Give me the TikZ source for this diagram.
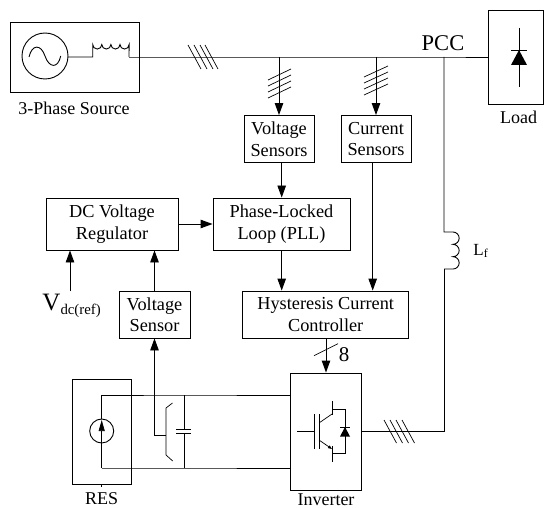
\documentclass[tikz,border=0pt]{standalone}
\usepackage{fontspec}
\setmainfont{Liberation Serif}
\usetikzlibrary{arrows.meta}

\tikzset{
    block/.style={draw,align=center,inner sep=0pt,font=\fontsize{18.3}{21.5}\selectfont},
    caption/.style={inner sep=0pt,font=\fontsize{18}{21}\selectfont},
    signal/.style={-{Triangle[length=12pt,width=8.5pt]}},
    thin wire/.style={line width=.7pt},
}

\begin{document}
\begin{tikzpicture}[x=1pt,y=-1pt,line width=.9pt]
    \useasboundingbox (0,0) rectangle (544,508);

    % boxes
    \node[block,minimum width=129,minimum height=70] (Source) at (74.5,57) {};
    \node[block,minimum width=55,minimum height=94] (Load) at (515.5,57) {};
    \node[block,minimum width=70,minimum height=47] (VSensors) at (279,139) {Voltage\\Sensors};
    \node[block,minimum width=70,minimum height=47] (CSensors) at (376,139) {Current\\Sensors};
    \node[block,minimum width=132,minimum height=52] (Regulator) at (112,224) {DC Voltage\\Regulator};
    \node[block,minimum width=137,minimum height=52] (PLL) at (281.5,224) {Phase-Locked\\Loop (PLL)};
    \node[block,minimum width=166,minimum height=47] (Controller) at (325.7,314.5) {Hysteresis Current\\Controller};
    \node[block,minimum width=71,minimum height=47] (VSensor) at (154.5,314.5) {Voltage\\Sensor};
    \node[block,minimum width=59,minimum height=105] (RES) at (101.7,431.5) {};
    \node[block,minimum width=71,minimum height=117] (Inverter) at (326,431.5) {};

    % labels
    \node[caption] (SourceLabel) at (74,108) {3-Phase Source};
    \node[caption] (LoadLabel) at (518.7,117) {Load};
    \node[caption] (ResLabel) at (101.7,499) {RES};
    \node[caption] (InverterLabel) at (326,499.5) {Inverter};
    \node[inner sep=0pt,font=\fontsize{22.5}{26}\selectfont] (PCCLabel) at (443,43) {PCC};
    \node[inner sep=0pt,anchor=base west,font=\fontsize{25}{28}\selectfont] (VrefLabel) at (42,310)
        {V\raisebox{-4pt}{\fontsize{14.8}{18}\selectfont dc(ref)}};
    \node[inner sep=0pt,font=\fontsize{21}{24}\selectfont] (EightLabel) at (344,355) {8};
    \node[inner sep=0pt,anchor=base west,font=\fontsize{17}{20}\selectfont] (LfLabel) at (473,255)
        {L\raisebox{-2pt}{\fontsize{12}{14}\selectfont f}};

    % junctions
    \coordinate (SourceOut) at (129,57);
    \coordinate (PCC) at (444,57);
    \coordinate (VTap) at (VSensors.north|-SourceOut);
    \coordinate (CTap) at (CSensors.north|-SourceOut);
    \coordinate (LfTop) at (444,232);
    \coordinate (LfBottom) at (444,269);
    \coordinate (InvCorner) at (444,431);
    \coordinate (Vref) at (70,291);
    \coordinate (SenseTurn) at (VSensor.south|-0,435);
    \coordinate (BusTop) at (184.7,395);
    \coordinate (BusBottom) at (184.7,468);
    \coordinate (ResTop) at (101.7,395);
    \coordinate (ResBottom) at (101.7,468);
    \coordinate (InvTop) at (Inverter.west|-BusTop);
    \coordinate (InvBottom) at (Inverter.west|-BusBottom);

    % power lines
    \draw (SourceOut) -- (PCC) -- (Load.west|-PCC);
    \draw (PCC) -- (LfTop) -- ++(9,0)
        arc (-90:90:6.17) arc (-90:90:6.17) arc (-90:90:6.17) -- (LfBottom);
    \draw (LfBottom) -- (InvCorner) -- (Inverter.east|-InvCorner);
    \draw (ResBottom) -- (ResTop) -- (BusTop) -- (InvTop);
    \draw (ResBottom) -- (BusBottom) -- (InvBottom);
    \draw (BusTop) -- (184.7,429);
    \draw (184.7,433) -- (BusBottom);
    \draw (RES.south) -- ++(0,3);

    % signals
    \draw[signal] (VTap) -- (VSensors.north);
    \draw[signal] (CTap) -- (CSensors.north);
    \draw[signal] (VSensors.south-|281.7,0) -- (PLL.north-|281.7,0);
    \draw[signal] (CSensors.south-|372.7,0) -- (Controller.north-|372.7,0);
    \draw[signal] (PLL.south-|281.7,0) -- (Controller.north-|281.7,0);
    \draw[signal] (Regulator.east) -- (PLL.west);
    \draw[signal] (VSensor.north) -- (Regulator.south-|VSensor.north);
    \draw[signal] (Vref) -- (Regulator.south-|Vref);
    \draw[signal] (Controller.south-|Inverter.north) -- (Inverter.north);
    \draw[signal] (166,435) -- (SenseTurn) -- (VSensor.south);

    % hatches
    \foreach \xa in {188,194,200,205}
        \draw[thin wire] (\xa,45) -- (\xa+13,69);
    \foreach \xa in {384,390,396,402}
        \draw[thin wire] (\xa,420) -- (\xa+12.5,443);
    \foreach \ya in {80,86,92,98}
        \draw[thin wire] (268,\ya) -- (291,\ya-11);
    \foreach \ya in {77,83,89,95}
        \draw[thin wire] (364,\ya) -- (388,\ya-11);
    \draw[thin wire] (314,355.7) -- (338,343.7);

    % source
    \draw (45,56) circle (23);
    \draw (29,57) .. controls (32,44) and (41,44) .. (45,56) .. controls (49,68) and (58,69) .. (60.7,56);
    \draw (68,57) -- (92.7,57) -- (92.7,44.5)
        arc (180:0:4.55) arc (180:0:4.55) arc (180:0:4.55) arc (180:0:4.55) -- (129,57);

    % load diode
    \draw[thin wire] (519,28) -- (519,87);
    \draw[thin wire] (511,50) -- (527,50);
    \fill (519,50) -- (527,65) -- (511,65) -- cycle;

    % RES source
    \draw[fill=white] (101.7,431) circle (12);
    \draw[thin wire,-{Triangle[length=11pt,width=6pt]}] (101.7,443) -- (101.7,420);

    % switch and capacitor
    \draw[thin wire] (172.5,403) -- (166,408) -- (166,455) -- (172.7,461);
    \draw[thin wire] (176,429) -- (191,429);
    \draw[thin wire] (176,433) -- (191,433);

    % IGBT
    \draw[thin wire] (297,431) -- (314,431);
    \draw[thin wire] (314,414) -- (314,449);
    \draw[thin wire] (319,414) -- (319,449);
    \draw[thin wire] (319,423) -- (332,414);
    \draw[thin wire,-{Triangle[length=4pt,width=3pt]}] (319,440) -- (332,449);
    \draw[thin wire] (332,401) -- (332,415);
    \draw[thin wire] (332,446) -- (332,462);
    \draw[thin wire] (332,409) -- (345,409) -- (345,453) -- (332,453);
    \draw[thin wire] (340,427) -- (350,427);
    \fill (345,427) -- (350,436.5) -- (340,436.5) -- cycle;
\end{tikzpicture}
\end{document}
